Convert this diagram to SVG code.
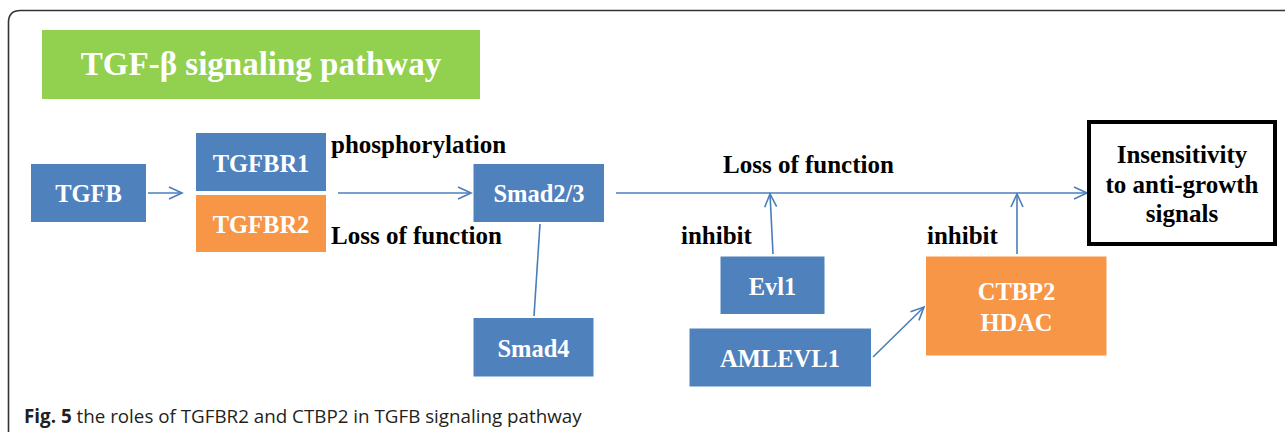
<svg xmlns="http://www.w3.org/2000/svg" width="1285" height="432" viewBox="0 0 1285 432">
<style>
.nt{font-family:"Liberation Serif","Times New Roman",serif;font-weight:bold;font-size:24.5px;fill:#fff;text-anchor:middle}
.lb{font-family:"Liberation Serif","Times New Roman",serif;font-weight:bold;font-size:25px;fill:#000}
.blue{fill:#4F81BD}
.orange{fill:#F79646}
.cn{stroke:#4A7EBB;stroke-width:1.6;fill:none}
.cap{font-family:"Open Sans","Noto Sans",sans-serif;font-size:18.8px;fill:#231F20}
</style>
<defs>
<marker id="ah" markerUnits="userSpaceOnUse" markerWidth="16" markerHeight="16" viewBox="0 0 16 16" refX="14" refY="7" orient="auto">
<path d="M1,1 L14,7 L1,13" fill="none" stroke="#4A7EBB" stroke-width="1.6"/>
</marker>
</defs>
<rect width="1285" height="432" fill="#fff"/>
<path d="M8.5,432 V22.5 Q8.5,10.5 20.5,10.5 H1285" fill="none" stroke="#333" stroke-width="1.6"/>
<g id="title">
<rect x="42" y="30" width="438" height="69" fill="#92D050"/>
<text x="261" y="75" style="font-family:'Liberation Serif','Times New Roman',serif;font-weight:bold;font-size:33px;fill:#fff;text-anchor:middle">TGF-β signaling pathway</text>
</g>
<g id="connectors">
<line class="cn" x1="148" y1="193" x2="182" y2="193" marker-end="url(#ah)"/>
<line class="cn" x1="338" y1="193" x2="471" y2="193" marker-end="url(#ah)"/>
<line class="cn" x1="616" y1="193" x2="1087" y2="193" marker-end="url(#ah)"/>
<line class="cn" x1="540" y1="224" x2="534" y2="316"/>
<line class="cn" x1="773" y1="254" x2="770" y2="194" marker-end="url(#ah)"/>
<line class="cn" x1="1017" y1="254" x2="1017" y2="194" marker-end="url(#ah)"/>
<line class="cn" x1="873" y1="357" x2="924" y2="307" marker-end="url(#ah)"/>
</g>
<g id="labels">
<text class="lb" x="331" y="153">phosphorylation</text>
<text class="lb" x="331" y="244">Loss of function</text>
<text class="lb" x="723" y="173">Loss of function</text>
<text class="lb" x="681" y="244">inhibit</text>
<text class="lb" x="927" y="244">inhibit</text>
</g>
<g id="TGFB">
<rect class="blue" x="31" y="164" width="115" height="58"/>
<text class="nt" x="88.5" y="202">TGFB</text>
</g>
<g id="TGFBR1">
<rect class="blue" x="196" y="133" width="130" height="58"/>
<text class="nt" x="261" y="172">TGFBR1</text>
</g>
<g id="TGFBR2">
<rect class="orange" x="196" y="195" width="130" height="57"/>
<text class="nt" x="261" y="233">TGFBR2</text>
</g>
<g id="Smad23">
<rect class="blue" x="473.5" y="164" width="130.5" height="58"/>
<text class="nt" x="539" y="202">Smad2/3</text>
</g>
<g id="Smad4">
<rect class="blue" x="473.5" y="318" width="120" height="58.5"/>
<text class="nt" x="533.5" y="357">Smad4</text>
</g>
<g id="Evl1">
<rect class="blue" x="720.5" y="256.5" width="104" height="57.5"/>
<text class="nt" x="772.5" y="295">Evl1</text>
</g>
<g id="AMLEVL1">
<rect class="blue" x="689.5" y="328.5" width="181.5" height="58"/>
<text class="nt" x="780" y="367">AMLEVL1</text>
</g>
<g id="CTBP2">
<rect class="orange" x="926" y="256.5" width="180.5" height="99"/>
<text class="nt" x="1016.5" y="300">CTBP2</text>
<text class="nt" x="1016.5" y="331">HDAC</text>
</g>
<g id="Insensitivity">
<rect x="1089" y="122" width="186" height="122" fill="#fff" stroke="#000" stroke-width="4"/>
<text class="lb" x="1182" y="163" text-anchor="middle">Insensitivity</text>
<text class="lb" x="1182" y="192.5" text-anchor="middle">to anti-growth</text>
<text class="lb" x="1182" y="222" text-anchor="middle">signals</text>
</g>
<text class="cap" x="24" y="423"><tspan font-weight="bold">Fig. 5</tspan> the roles of TGFBR2 and CTBP2 in TGFB signaling pathway</text>
</svg>
